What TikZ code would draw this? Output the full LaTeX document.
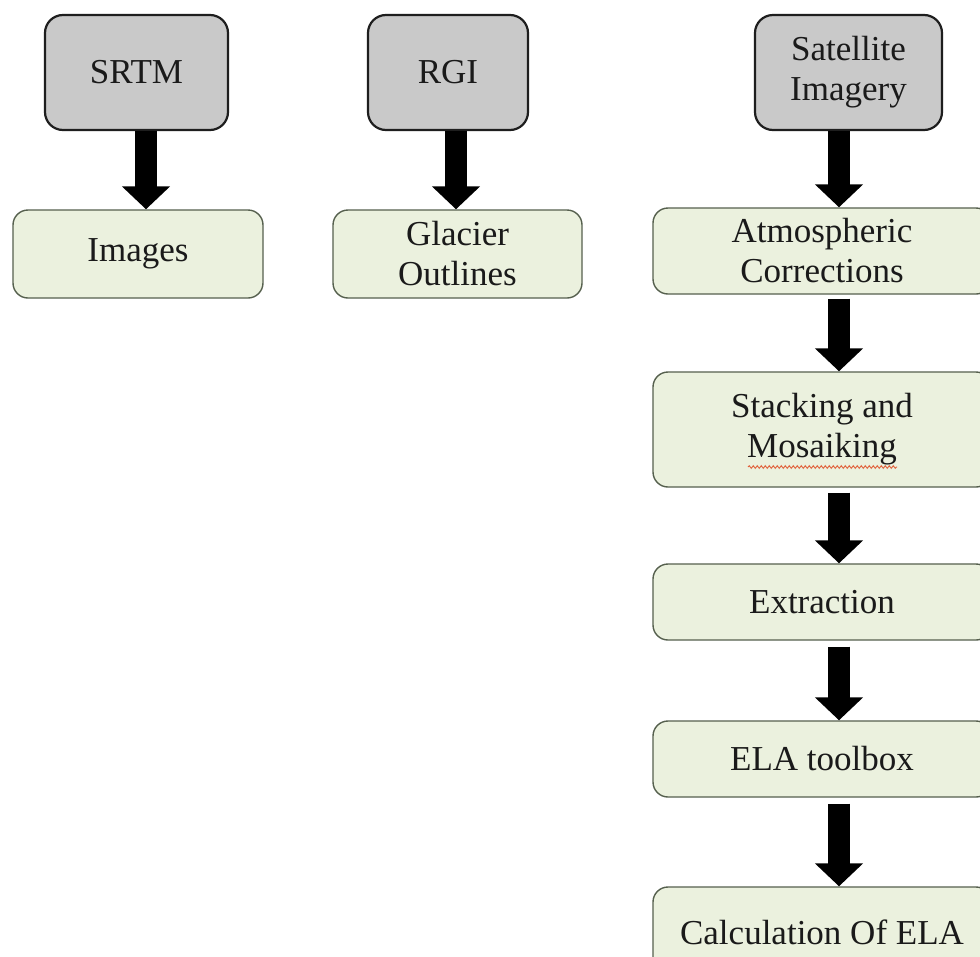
\documentclass[tikz,border=0pt]{standalone}
\usepackage{fontspec}
\setmainfont{Liberation Serif}
\usetikzlibrary{arrows.meta,decorations.pathmorphing}
\definecolor{srcfill}{HTML}{C9C9C9}
\definecolor{srcdraw}{HTML}{1E1E1E}
\definecolor{stepfill}{HTML}{EBF1DE}
\definecolor{stepdraw}{HTML}{56604E}
\definecolor{txt}{HTML}{1A1A1A}
\definecolor{spell}{HTML}{E0603A}
\begin{document}
\begin{tikzpicture}[x=1pt,y=-1pt,
  every node/.style={font=\fontsize{35}{40}\selectfont, text=txt, align=center, inner sep=0pt},
  srcbox/.style={draw=srcdraw, fill=srcfill, line width=2.2pt, rounded corners=18pt},
  stepbox/.style={draw=stepdraw, fill=stepfill, line width=1.4pt, rounded corners=15pt},
  bigarrow/.style={draw=black, line width=22pt, -{Triangle[width=47pt,length=23pt]}}]
\useasboundingbox (0,0) rectangle (980,956);
\clip (0,0) rectangle (980,956);
\fill[white] (0,0) rectangle (980,956);
% source boxes
\node[srcbox, minimum width=183pt, minimum height=115pt] (srtm) at (136.5,72.5) {SRTM};
\node[srcbox, minimum width=160pt, minimum height=115pt] (rgi) at (448,72.5) {RGI};
\node[srcbox, minimum width=187pt, minimum height=115pt] (sat) at (848.5,72.5) {Satellite\\Imagery};
% step boxes
\node[stepbox, minimum width=250pt, minimum height=88pt] (images) at (138,254) {Images};
\node[stepbox, minimum width=249pt, minimum height=88pt] (glacier) at (457.5,254) {Glacier\\Outlines};
\node[stepbox, minimum width=338pt, minimum height=86pt] (atm) at (822,251) {Atmospheric\\Corrections};
\node[stepbox, minimum width=338pt, minimum height=115pt] (stack) at (822,429.5) {Stacking and\\Mosaiking};
\node[stepbox, minimum width=338pt, minimum height=76pt] (extr) at (822,602) {Extraction};
\node[stepbox, minimum width=338pt, minimum height=76pt] (ela) at (822,759) {ELA toolbox};
\node[stepbox, minimum width=338pt, minimum height=90pt] (calc) at (822,932) {Calculation Of ELA};
% spell-check underline
\coordinate (sp1) at (748,467);
\coordinate (sp2) at (897,467);
\draw[spell, line width=0.9pt, decorate, decoration={snake, amplitude=1.3pt, segment length=4pt}] (sp1) -- (sp2);
% arrow axes
\coordinate (ax1) at (146,0);
\coordinate (ax2) at (456,0);
\coordinate (ax3) at (839,0);
% arrows
\draw[bigarrow] (srtm.south -| ax1) -- (images.north -| ax1);
\draw[bigarrow] (rgi.south -| ax2) -- (glacier.north -| ax2);
\draw[bigarrow] (sat.south -| ax3) -- (atm.north -| ax3);
\draw[bigarrow] ([yshift=-4pt]atm.south -| ax3) -- (stack.north -| ax3);
\draw[bigarrow] ([yshift=-5pt]stack.south -| ax3) -- (extr.north -| ax3);
\draw[bigarrow] ([yshift=-6pt]extr.south -| ax3) -- (ela.north -| ax3);
\draw[bigarrow] ([yshift=-6pt]ela.south -| ax3) -- (calc.north -| ax3);
\end{tikzpicture}
\end{document}
